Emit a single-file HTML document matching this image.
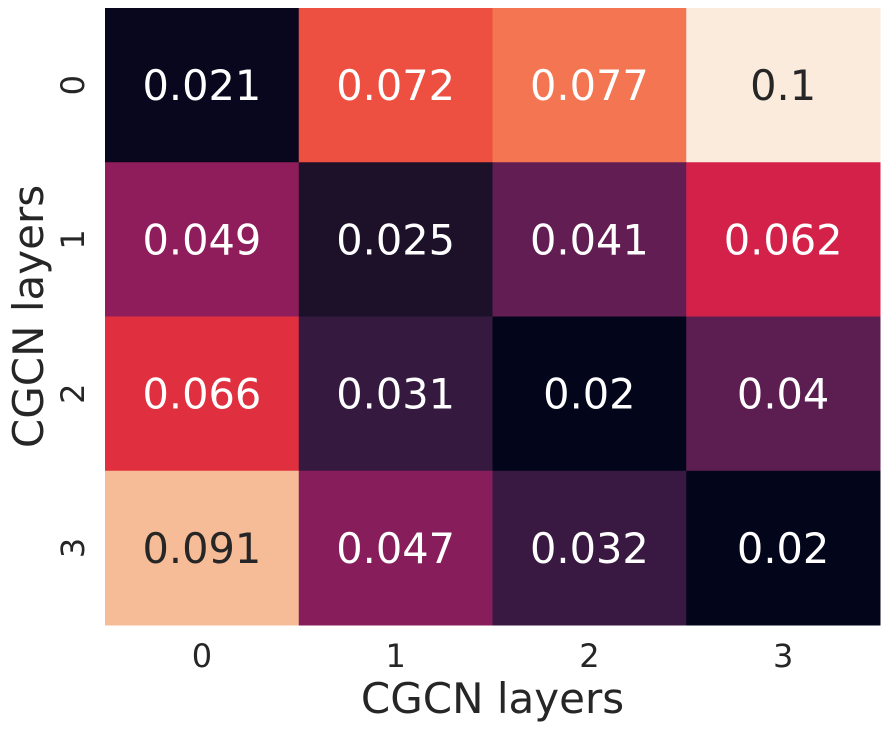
<!DOCTYPE html>
<html><head><meta charset="utf-8"><style>
html,body{margin:0;padding:0;background:#fff;width:889px;height:730px;overflow:hidden}
svg{display:block}
text{font-family:"DejaVu Sans","Liberation Sans",sans-serif}
</style></head><body>
<svg id="chart" width="889" height="730" viewBox="0 0 889 730" xmlns="http://www.w3.org/2000/svg"></svg>
<script>
const xCategories = ["0","1","2","3"];
const yCategories = ["0","1","2","3"];
const values = [
  [0.021, 0.072, 0.077, 0.1],
  [0.049, 0.025, 0.041, 0.062],
  [0.066, 0.031, 0.02, 0.04],
  [0.091, 0.047, 0.032, 0.02]
];
const labels = [
  ["0.021","0.072","0.077","0.1"],
  ["0.049","0.025","0.041","0.062"],
  ["0.066","0.031","0.02","0.04"],
  ["0.091","0.047","0.032","0.02"]
];
const vmin = 0.02, vmax = 0.1;
const stops=[[0,"#03051a"],[0.0625,"#1c1129"],[0.14,"#36193f"],[0.25,"#5c1e51"],[0.34,"#881e5b"],[0.36,"#8f1d5b"],[0.525,"#d3214a"],[0.575,"#e0303f"],[0.65,"#ed5040"],[0.7125,"#f47552"],[0.8875,"#f6bb97"],[1,"#faebdd"]];
function hex(c){return [1,3,5].map(i=>parseInt(c.substr(i,2),16));}
function color(v){
  let t=Math.max(0,Math.min(1,(v-vmin)/(vmax-vmin)));
  for(let i=1;i<stops.length;i++){
    if(t<=stops[i][0]){
      const a=stops[i-1],b=stops[i],f=(t-a[0])/(b[0]-a[0]);
      const ca=hex(a[1]),cb=hex(b[1]);
      return "rgb("+ca.map((x,k)=>Math.round(x+(cb[k]-x)*f)).join(",")+")";
    }
  }
  return stops[stops.length-1][1];
}
const L=105,T=8,W=775,H=617;
const cw=W/xCategories.length, ch=H/yCategories.length;
const xPos=i=>L+i*cw, yPos=j=>T+j*ch;
const svg=document.getElementById('chart');
const NS="http://www.w3.org/2000/svg";
function mk(tag,attrs,txt){const e=document.createElementNS(NS,tag);for(const k in attrs)e.setAttribute(k,attrs[k]);if(txt!==undefined)e.textContent=txt;svg.appendChild(e);return e;}
values.forEach((row,j)=>row.forEach((v,i)=>{
  const r=mk('rect',{x:xPos(i),y:yPos(j),width:cw+0.5,height:ch+0.5,fill:color(v)});
  
  
  const t=(v-vmin)/(vmax-vmin);
  const tx=mk('text',{x:xPos(i)+cw/2,y:yPos(j)+ch/2+15,'text-anchor':'middle','font-size':'41.5',fill:t>0.8?'#262626':'#ffffff'},labels[j][i]);
  
  
}));
xCategories.forEach((c,i)=>{
  const t=mk('text',{x:xPos(i)+cw/2,y:667,'text-anchor':'middle','font-size':'32',fill:'#262626'},c);
  
  
});
yCategories.forEach((c,j)=>{
  const y=yPos(j)+ch/2;
  const t=mk('text',{x:84,y:y,'text-anchor':'middle','font-size':'32',fill:'#262626',transform:'rotate(-90 84 '+y+')'},c);
  
  
});
const xt=mk('text',{x:L+W/2,y:713,'text-anchor':'middle','font-size':'42',fill:'#262626'},'CGCN layers');


const yc=T+H/2;
const yt=mk('text',{x:43,y:yc,'text-anchor':'middle','font-size':'42',fill:'#262626',transform:'rotate(-90 43 '+yc+')'},'CGCN layers');


</script>
</body></html>
